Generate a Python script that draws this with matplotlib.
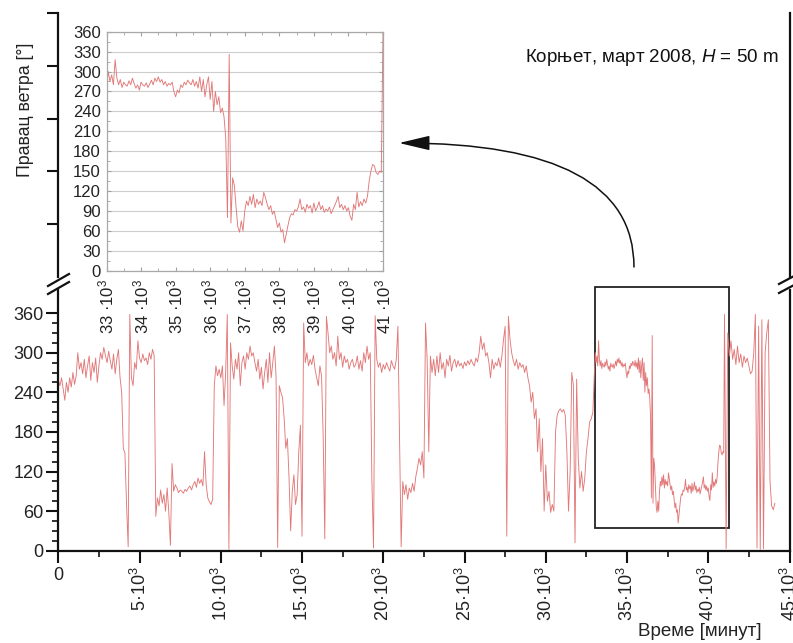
import numpy as np
import matplotlib
matplotlib.use('Agg')
import matplotlib.pyplot as plt
from matplotlib.patches import Rectangle, FancyArrowPatch
from matplotlib.path import Path
from matplotlib.lines import Line2D

plt.rcParams['font.family'] = ['Liberation Sans', 'DejaVu Sans']
plt.rcParams['mathtext.fontset'] = 'custom'
plt.rcParams['mathtext.rm'] = 'Liberation Sans'
plt.rcParams['mathtext.it'] = 'Liberation Sans:italic'

# ---------------- data (wind direction, degrees) ----------------
main_step = 100          # minutes between samples in the main series
main_pre = [             # t = 0 .. 32900
    258, 250, 262, 245, 228, 255, 240, 262, 248, 270,
    252, 265, 300, 275, 285, 268, 290, 262, 280, 295,
    258, 285, 270, 292, 255, 280, 300, 290, 308, 296,
    285, 302, 288, 275, 298, 268, 290, 305, 262, 240,
    155, 148, 70, 6, 358, 262, 250, 285, 275, 318,
    292, 285, 298, 288, 292, 282, 300, 290, 305, 295,
    52, 80, 68, 92, 72, 85, 60, 95, 58, 8,
    132, 90, 100, 95, 88, 92, 90, 87, 93, 90,
    95, 98, 92, 100, 105, 96, 110, 102, 108, 98,
    150, 100, 80, 74, 70, 78, 250, 280, 265, 275,
    262, 280, 220, 270, 358, 2, 315, 280, 260, 290,
    275, 300, 250, 285, 295, 275, 300, 290, 310, 295,
    300, 285, 272, 290, 260, 278, 245, 270, 290, 255,
    300, 262, 285, 310, 265, 5, 250, 240, 232, 200,
    155, 170, 110, 30, 90, 115, 70, 85, 150, 190,
    22, 345, 285, 300, 280, 290, 282, 296, 275, 262,
    250, 280, 265, 175, 18, 355, 330, 300, 310, 290,
    300, 280, 325, 290, 300, 278, 295, 285, 290, 275,
    285, 290, 278, 282, 295, 275, 288, 272, 300, 285,
    310, 290, 300, 105, 4, 356, 290, 278, 285, 270,
    282, 275, 285, 278, 272, 288, 280, 275, 290, 340,
    175, 6, 105, 85, 100, 78, 95, 88, 102, 90,
    112, 125, 140, 130, 150, 110, 345, 290, 150, 295,
    270, 290, 265, 295, 270, 300, 275, 285, 262, 290,
    280, 296, 272, 285, 290, 278, 288, 280, 284, 276,
    286, 280, 288, 282, 290, 284, 280, 292, 286, 300,
    325, 305, 315, 295, 300, 285, 262, 290, 275, 285,
    280, 292, 278, 295, 320, 340, 22, 355, 320, 300,
    288, 280, 290, 275, 285, 278, 282, 270, 280, 262,
    250, 225, 240, 200, 215, 150, 200, 120, 170, 60,
    130, 75, 90, 58, 70, 60, 180, 205, 212, 215,
    210, 214, 205, 150, 60, 120, 270, 250, 12, 260,
    140, 95, 120, 90, 110, 150, 170, 195, 200, 210,
]

inset_start = 33000      # zoomed part, finer sampling
inset_step = 50
inset_dir = [
    275, 300, 285, 295, 280, 318, 290, 280, 288, 276,
    284, 280, 278, 286, 280, 290, 282, 275, 280, 272,
    284, 280, 278, 283, 276, 281, 287, 280, 290, 285,
    292, 284, 288, 280, 285, 278, 282, 280, 284, 270,
    262, 272, 268, 280, 276, 284, 280, 287, 283, 280,
    288, 278, 285, 275, 292, 270, 288, 262, 280, 292,
    258, 285, 240, 270, 250, 262, 238, 245, 232, 200,
    80, 326, 72, 140, 128, 95, 66, 58, 75, 60,
    90, 105, 98, 112, 100, 115, 95, 108, 100, 105,
    98, 118, 110, 100, 92, 98, 85, 90, 78, 65,
    72, 58, 62, 42, 55, 68, 80, 86, 84, 92,
    90, 96, 108, 92, 96, 88, 100, 94, 98, 87,
    102, 90, 96, 104, 92, 98, 88, 93, 90, 96,
    86, 92, 98, 104, 112, 95, 100, 92, 98, 90,
    95, 82, 76, 100, 92, 118, 96, 104, 98, 108,
    102, 112, 135, 150, 160, 158, 148, 145, 150, 148,
    358,
]

post_start = 41100
post_dir = [
    3, 330, 295, 318, 290, 305, 282, 310, 285, 298,
    278, 295, 285, 292, 280, 268, 272, 300, 358, 4,
    340, 2, 350, 3, 300, 330, 350, 105, 68, 62, 72,
]

main_xticks = [0, 5000, 10000, 15000, 20000, 25000, 30000, 35000, 40000, 45000]
main_xlabels = ['0'] + [r'$\mathregular{%d·10^3}$' % k for k in (5, 10, 15, 20, 25, 30, 35, 40, 45)]
main_yticks = [0, 60, 120, 180, 240, 300, 360]
inset_xticks = [33000, 34000, 35000, 36000, 37000, 38000, 39000, 40000, 41000]
inset_xlabels = [r'$\mathregular{%d\ ·10^3}$' % k for k in (33, 34, 35, 36, 37, 38, 39, 40, 41)]
inset_yticks = [0, 30, 60, 90, 120, 150, 180, 210, 240, 270, 300, 330, 360]

title_text = 'Корњет, март 2008, $H$ = 50 m'
ylabel_text = 'Правац ветра [°]'
xlabel_text = 'Време [минут]'

# ---------------- build series ----------------
t_pre = np.arange(len(main_pre)) * main_step
t_inset = inset_start + np.arange(len(inset_dir)) * inset_step
t_post = post_start + np.arange(len(post_dir)) * main_step
t_all = np.concatenate([t_pre, t_inset, t_post])
d_all = np.concatenate([main_pre, inset_dir, post_dir])

W, H = 793, 643
fig = plt.figure(figsize=(W / 100, H / 100), dpi=100)


def fx(px):
    return px / W


def fy(py):
    return 1 - py / H


LINE_C = '#e27878'

# ---------------- main axes ----------------
mx0, mx1, my0, my1 = 58.3, 789.5, 550.7, 290
ax = fig.add_axes([fx(mx0), fy(my0), fx(mx1) - fx(mx0), fy(my1) - fy(my0)])
ax.plot(t_all, d_all, color=LINE_C, lw=0.65)
ax.set_xlim(0, 45000)
ax.set_ylim(0, 395)
ax.spines['top'].set_visible(False)
for s in ('left', 'bottom', 'right'):
    ax.spines[s].set_linewidth(1.6)
    ax.spines[s].set_color('#111')
ax.set_yticks(main_yticks)
ax.set_yticks(np.arange(0, 361, 15), minor=True)
ax.set_xticks(main_xticks)
ax.set_xticks(np.arange(2500, 45000, 5000), minor=True)
ax.set_xticklabels(main_xlabels, rotation=90)
ax.get_xticklabels()[0].set_rotation(0)
ax.yaxis.set_ticks_position('left')
ax.xaxis.set_ticks_position('bottom')
ax.tick_params(which='major', length=8.5, width=1.5, labelsize=13,
               direction='out', color='#111', pad=2, labelcolor='#222')
ax.tick_params(axis='x', which='major', pad=3)
ax.tick_params(which='minor', length=4.5, width=1.2, direction='out', color='#111')

ax.add_patch(Rectangle((33000, 34), 8250, 366, fill=False, lw=1.3,
                       ec='#222', clip_on=False))

# ---------------- upper broken-axis part ----------------
ux0, ux1, uy0, uy1 = 58.3, 789.5, 277, 13
axu = fig.add_axes([fx(ux0), fy(uy0), fx(ux1) - fx(ux0), fy(uy1) - fy(uy0)])
axu.patch.set_visible(False)
axu.spines['top'].set_visible(False)
axu.spines['bottom'].set_visible(False)
for s in ('left', 'right'):
    axu.spines[s].set_linewidth(1.6)
    axu.spines[s].set_color('#111')
axu.set_ylim(0, 1)
axu.set_xticks([])
axu.set_yticks([0.2, 0.4, 0.6, 0.8, 1.0])
axu.set_yticklabels([])
axu.yaxis.set_ticks_position('left')
axu.tick_params(axis='y', length=8, width=1.5, direction='out', color='#111')

# break marks
for (xa, ya, xb, yb) in [(48, 286, 69, 274), (48, 294, 69, 282),
                         (779, 284, 796, 275), (779, 293, 796, 284)]:
    fig.add_artist(Line2D([fx(xa), fx(xb)], [fy(ya), fy(yb)],
                          transform=fig.transFigure, color='#111', lw=1.6))

# ---------------- inset ----------------
ix0, ix1, iy0, iy1 = 106.5, 383, 270.7, 31.7
axi = fig.add_axes([fx(ix0), fy(iy0), fx(ix1) - fx(ix0), fy(iy1) - fy(iy0)])
axi.plot(t_inset, inset_dir, color=LINE_C, lw=0.65)
axi.set_xlim(33000, 41000)
axi.set_ylim(0, 360)
axi.set_yticks(inset_yticks)
axi.set_yticks(np.arange(0, 361, 15), minor=True)
axi.set_xticks(inset_xticks)
axi.set_xticks(np.arange(33000, 41001, 500), minor=True)
axi.set_xticklabels(inset_xlabels, rotation=90)
axi.yaxis.grid(True, color='#cdcdcd', lw=0.8)
axi.set_axisbelow(True)
for s in axi.spines.values():
    s.set_color('#a8a8a8')
    s.set_linewidth(0.9)
axi.tick_params(which='both', direction='in', top=True, right=True,
                color='#a0a0a0', labelsize=12, labelcolor='#222')
axi.tick_params(which='major', length=3)
axi.tick_params(which='minor', length=2)
axi.tick_params(axis='y', pad=4)
axi.tick_params(axis='x', pad=6)

# ---------------- arrow ----------------
p_start = (fx(634), fy(267))
p_ctrl = (fx(634), fy(143))
p_end = (fx(399), fy(143))
arrow_path = Path([p_start, p_ctrl, p_end], [Path.MOVETO, Path.CURVE3, Path.CURVE3])
arr = FancyArrowPatch(path=arrow_path,
                      arrowstyle='-|>,head_length=19,head_width=4.5',
                      mutation_scale=1, transform=fig.transFigure,
                      color='#111', lw=1.1, shrinkA=0, shrinkB=0)
fig.add_artist(arr)

# ---------------- texts ----------------
fig.text(fx(778), fy(58), title_text, ha='right', va='center', fontsize=13.5, color='#111')
fig.text(fx(25), fy(110), ylabel_text, rotation=90, ha='center', va='center',
         fontsize=12.8, color='#222')
fig.text(fx(762), fy(632), xlabel_text, ha='right', va='center', fontsize=13.5, color='#222')

fig.savefig('out.png', dpi=100)
